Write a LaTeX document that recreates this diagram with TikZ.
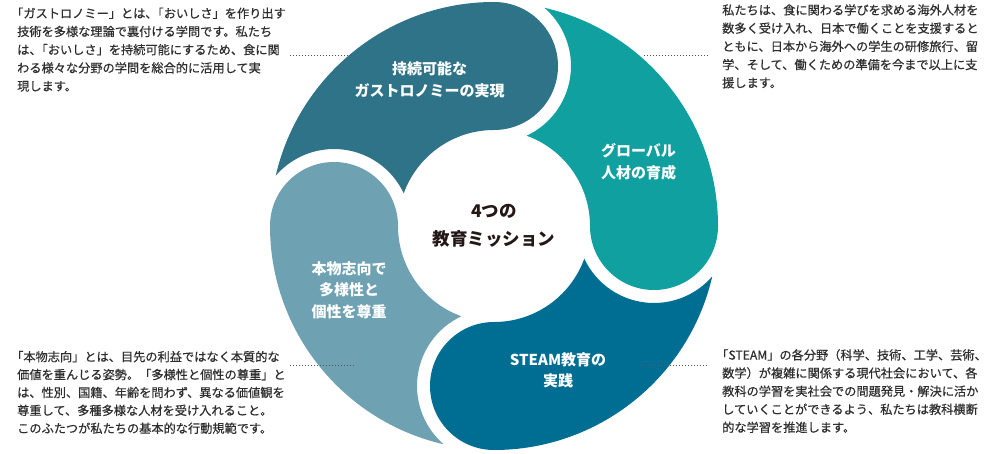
\documentclass[tikz,border=0pt]{standalone}
\usepackage{fontspec}
\setmainfont{Noto Sans CJK JP}
\newfontfamily\sidefont[FakeBold=0.6]{Noto Sans CJK JP}
\usetikzlibrary{calc}
\definecolor{petalA}{HTML}{2E7387}
\definecolor{petalB}{HTML}{6EA1B2}
\definecolor{petalC}{HTML}{006E92}
\definecolor{petalD}{HTML}{10A0A0}
\definecolor{bodytext}{HTML}{2E2E2E}
\definecolor{titletext}{HTML}{231815}
\definecolor{leadergray}{HTML}{555555}
% petal: bulge at angle #1 (bulging clockwise), concave end at #1+90
\newcommand\drawpetal[2]{%
  \fill[#2] ($(O)+(#1:224)$)
    arc[start angle=#1, end angle=#1-180, radius=64]
    arc[start angle=#1, end angle=#1+70.11, radius=96]
    arc[start angle=#1+295.10, end angle=#1+409.18, radius=77]
    arc[start angle=#1+77.015, end angle=#1, radius=224] -- cycle;}
\tikzset{
  side/.style={anchor=west, inner sep=0pt, text=bodytext,
    font=\sidefont\fontsize{12.2}{14}\selectfont, text height=10.7pt, text depth=1.5pt},
  plabel/.style={inner sep=0pt, text=white,
    font=\bfseries\fontsize{15}{18}\selectfont, text height=13.2pt, text depth=1.8pt},
  clabel/.style={inner sep=0pt, text=titletext,
    font=\bfseries\fontsize{17.5}{20}\selectfont, text height=15.4pt, text depth=2.1pt},
  leader/.style={draw=leadergray, line width=1pt, dash pattern=on 1pt off 2pt},
}
\begin{document}
\begin{tikzpicture}[x=1pt,y=1pt]
\path[use as bounding box] (0,0) rectangle (1000,453);
\coordinate (O) at (494,227);
\drawpetal{90}{petalA}
\drawpetal{180}{petalB}
\drawpetal{270}{petalC}
\drawpetal{0}{petalD}

% center
\node[clabel] (c1) at (494,242) {4つの};
\node[clabel] (c2) at (494,213.7) {教育ミッション};

% petal labels
\node[plabel] (a1) at (429.5,383.7) {持続可能な};
\node[plabel] (a2) at (429.5,362.3) {ガストロノミーの実現};
\node[plabel] (d1) at (638.5,302.3) {グローバル};
\node[plabel] (d2) at (638.5,280.3) {人材の育成};
\node[plabel] (b1) at (349,184.3) {本物志向で};
\node[plabel] (b2) at (349,163) {多様性と};
\node[plabel] (b3) at (349,141.3) {個性を尊重};
\node[plabel] (e1) at (558,93.7) {STEAM教育の};
\node[plabel] (e2) at (558,72.3) {実践};

% side texts
\node[side] (lt1) at (17,439.7) {\kern-6pt「ガストロノミー」とは、\kern-6pt「おいしさ」を作り出す};
\node[side] (lt2) at (17,421.5) {技術を多様な理論で裏付ける学問です。私たち};
\node[side] (lt3) at (17,403.3) {は、\kern-6pt「おいしさ」を持続可能にするため、食に関};
\node[side] (lt4) at (17,385.1) {わる様々な分野の学問を総合的に活用して実};
\node[side] (lt5) at (17,366.9) {現します。};

\node[side] (rt1) at (722,443) {私たちは、食に関わる学びを求める海外人材を};
\node[side] (rt2) at (722,424.8) {数多く受け入れ、日本で働くことを支援すると};
\node[side] (rt3) at (722,406.6) {ともに、日本から海外への学生の研修旅行、留};
\node[side] (rt4) at (722,388.4) {学、そして、働くための準備を今まで以上に支};
\node[side] (rt5) at (722,370.2) {援します。};

\node[side] (lb1) at (17,96.3) {\kern-6pt「本物志向」とは、目先の利益ではなく本質的な};
\node[side] (lb2) at (17,78.4) {価値を重んじる姿勢。「多様性と個性の尊重」と};
\node[side] (lb3) at (17,60.5) {は、性別、国籍、年齢を問わず、異なる価値観を};
\node[side] (lb4) at (17,42.6) {尊重して、多種多様な人材を受け入れること。};
\node[side] (lb5) at (17,24.7) {このふたつが私たちの基本的な行動規範です。};

\node[side] (rb1) at (722,98) {\kern-6pt「STEAM」の各分野（科学、技術、工学、芸術、};
\node[side] (rb2) at (722,79.9) {数学）が複雑に関係する現代社会において、各};
\node[side] (rb3) at (722,61.8) {教科の学習を実社会での問題発見・解決に活か};
\node[side] (rb4) at (722,43.7) {していくことができるよう、私たちは教科横断};
\node[side] (rb5) at (722,25.6) {的な学習を推進します。};

% leader lines
\coordinate (tlA) at (290,397);
\coordinate (tlB) at (352,397);
\coordinate (trA) at (644,397);
\coordinate (trB) at (709,397);
\coordinate (blA) at (290,88);
\coordinate (blB) at (355,88);
\coordinate (brA) at (643,88);
\coordinate (brB) at (709,88);
\draw[leader] (tlA) -- (tlB);
\draw[leader] (trA) -- (trB);
\draw[leader] (blA) -- (blB);
\draw[leader] (brA) -- (brB);
\end{tikzpicture}
\end{document}
